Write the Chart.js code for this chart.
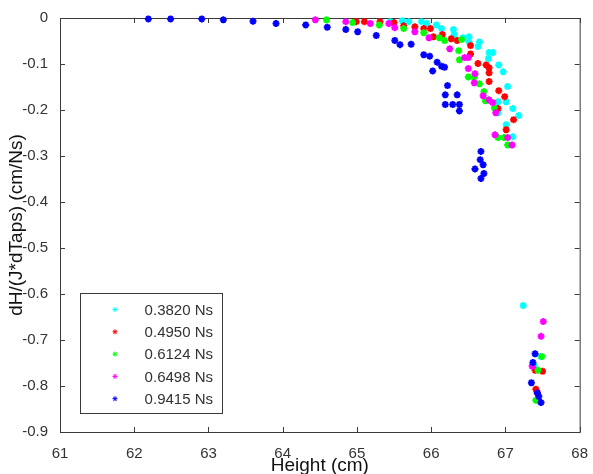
<!DOCTYPE html>
<html>
<head>
<meta charset="utf-8">
<script src="https://cdn.jsdelivr.net/npm/chart.js@4"></script>
<style>
  body { margin: 0; background: #fff; }
  canvas { display: block; }
</style>
</head>
<body>
<canvas id="heightChart" width="593" height="474"></canvas>
<script>
const seriesLabels = ['0.3820 Ns', '0.4950 Ns', '0.6124 Ns', '0.6498 Ns', '0.9415 Ns'];
const seriesColors = ['#00ffff', '#ff0000', '#00ff00', '#ff00ff', '#0000ff'];

// Height (cm) / dH/(J*dTaps) per impulse
const cyanH = [65.45, 65.61, 65.70, 65.87, 65.94, 66.07, 66.14, 66.30, 66.31, 66.43, 66.51, 66.51, 66.65, 66.63, 66.78, 66.83, 66.77, 66.91, 66.97, 67.03, 66.90, 67.01, 67.10, 66.90, 67.18, 67.01, 67.10, 67.24, 67.48, 67.39];
const cyanD = [-0.008, -0.006, -0.008, -0.008, -0.012, -0.015, -0.023, -0.025, -0.036, -0.043, -0.041, -0.052, -0.052, -0.062, -0.075, -0.075, -0.088, -0.102, -0.117, -0.149, -0.182, -0.182, -0.197, -0.206, -0.212, -0.232, -0.258, -0.625, -0.736, -0.756];

const redH = [64.99, 65.10, 65.31, 65.50, 65.63, 65.78, 65.90, 65.99, 66.03, 66.15, 66.27, 66.35, 66.53, 66.53, 66.63, 66.74, 66.78, 66.78, 66.78, 66.91, 66.99, 66.90, 67.11, 67.01, 67.40, 67.50, 67.41, 67.43];
const redD = [-0.008, -0.008, -0.008, -0.010, -0.017, -0.019, -0.023, -0.023, -0.041, -0.036, -0.045, -0.049, -0.060, -0.078, -0.099, -0.102, -0.108, -0.119, -0.138, -0.158, -0.171, -0.197, -0.221, -0.243, -0.766, -0.768, -0.807, -0.814];

const greenH = [64.59, 64.94, 65.30, 65.63, 65.90, 66.11, 66.18, 66.41, 66.37, 66.38, 66.50, 66.58, 66.65, 66.71, 66.73, 66.78, 66.85, 66.90, 66.98, 67.03, 67.44, 67.49, 67.41, 67.44];
const greenD = [-0.004, -0.010, -0.015, -0.023, -0.032, -0.043, -0.049, -0.047, -0.071, -0.091, -0.128, -0.128, -0.143, -0.160, -0.180, -0.178, -0.195, -0.260, -0.260, -0.276, -0.766, -0.736, -0.831, -0.831];

const magentaH = [64.44, 64.85, 65.18, 65.43, 65.51, 65.78, 65.97, 66.25, 66.45, 66.50, 66.50, 66.59, 66.58, 66.70, 66.78, 66.83, 66.87, 66.86, 67.03, 67.09, 67.51, 67.48, 67.36];
const magentaD = [-0.004, -0.008, -0.012, -0.012, -0.021, -0.030, -0.043, -0.067, -0.086, -0.086, -0.110, -0.121, -0.141, -0.169, -0.178, -0.184, -0.206, -0.254, -0.260, -0.276, -0.660, -0.692, -0.757];

const blueH = [62.19, 62.49, 62.91, 63.20, 63.60, 63.91, 64.31, 64.60, 64.85, 65.01, 65.26, 65.51, 65.58, 65.73, 65.90, 65.98, 66.08, 66.14, 66.18, 66.02, 66.22, 66.19, 66.35, 66.19, 66.29, 66.38, 66.38, 66.67, 66.66, 66.70, 66.59, 66.71, 66.67, 67.40, 67.37, 67.35, 67.43, 67.45, 67.48];
const blueD = [-0.002, -0.002, -0.002, -0.004, -0.007, -0.012, -0.015, -0.020, -0.025, -0.030, -0.038, -0.049, -0.058, -0.057, -0.080, -0.083, -0.096, -0.105, -0.107, -0.115, -0.147, -0.167, -0.167, -0.188, -0.188, -0.188, -0.202, -0.290, -0.308, -0.319, -0.328, -0.338, -0.349, -0.730, -0.749, -0.793, -0.815, -0.823, -0.836];

const xTicks = [61, 62, 63, 64, 65, 66, 67, 68];
const yTicks = [0, -0.1, -0.2, -0.3, -0.4, -0.5, -0.6, -0.7, -0.8, -0.9];

const allH = [cyanH, redH, greenH, magentaH, blueH];
const allD = [cyanD, redD, greenD, magentaD, blueD];

const axisColor = '#3a3a3a';
const textColor = '#333333';
const fontFamily = '"Liberation Sans", Arial, sans-serif';

// MATLAB style box with inward ticks
const frame = {
  id: 'frame',
  beforeDatasetsDraw(chart) {
    const { ctx, chartArea: a, scales } = chart;
    ctx.save();
    ctx.strokeStyle = axisColor;
    ctx.lineWidth = 1;
    ctx.strokeRect(a.left + 0.5, a.top + 0.5, a.right - a.left, a.bottom - a.top);
    ctx.beginPath();
    xTicks.forEach(v => {
      const px = Math.round(scales.x.getPixelForValue(v)) + 0.5;
      ctx.moveTo(px, a.bottom); ctx.lineTo(px, a.bottom - 5);
      ctx.moveTo(px, a.top); ctx.lineTo(px, a.top + 5);
    });
    yTicks.forEach(v => {
      const py = Math.round(scales.y.getPixelForValue(v)) + 0.5;
      ctx.moveTo(a.left, py); ctx.lineTo(a.left + 5, py);
      ctx.moveTo(a.right, py); ctx.lineTo(a.right - 5, py);
    });
    ctx.stroke();
    ctx.restore();
  }
};

// legend box in the lower left of the axes
const boxLegend = {
  id: 'boxLegend',
  afterDraw(chart) {
    const { ctx, chartArea: a } = chart;
    const left = a.left + 20, top = a.bottom - 139, w = 142, h = 120;
    ctx.save();
    ctx.fillStyle = '#fff';
    ctx.fillRect(left, top, w, h);
    ctx.strokeStyle = axisColor;
    ctx.lineWidth = 1;
    ctx.strokeRect(left + 0.5, top + 0.5, w, h);
    ctx.font = '15px ' + fontFamily;
    ctx.textAlign = 'right';
    ctx.textBaseline = 'middle';
    chart.data.datasets.forEach((ds, i) => {
      const y = top + 16.5 + i * 22.3;
      ctx.strokeStyle = ds.borderColor;
      ctx.fillStyle = ds.borderColor;
      Chart.helpers.drawPoint(ctx, { pointStyle: 'star', radius: 2.5, borderWidth: 1.5 }, left + 35, y);
      ctx.fillStyle = textColor;
      ctx.fillText(ds.label, left + 133, y + 1);
    });
    ctx.restore();
  }
};

new Chart(document.getElementById('heightChart'), {
  type: 'scatter',
  data: {
    datasets: seriesLabels.map((label, i) => ({
      label: label,
      data: allH[i].map((h, j) => ({ x: h, y: allD[i][j] })),
      borderColor: seriesColors[i],
      backgroundColor: seriesColors[i],
      pointStyle: 'star',
      pointRadius: 3.5,
      pointBorderWidth: 2,
      order: seriesLabels.length - i,
      clip: false
    }))
  },
  options: {
    responsive: false,
    animation: false,
    layout: { padding: { top: 18, right: 9, left: 0, bottom: 0 } },
    plugins: {
      legend: { display: false },
      tooltip: { enabled: false }
    },
    scales: {
      x: {
        type: 'linear',
        min: 61,
        max: 68,
        afterBuildTicks: s => { s.ticks = xTicks.map(v => ({ value: v })); },
        grid: { display: false },
        border: { display: false },
        ticks: {
          padding: 5,
          color: textColor,
          font: { family: fontFamily, size: 15 },
          callback: v => String(v)
        },
        title: {
          display: true,
          text: 'Height (cm)',
          color: '#111',
          font: { family: fontFamily, size: 19 },
          padding: { top: 0, bottom: -3 }
        },
        afterFit: s => { s.height = 42; }
      },
      y: {
        type: 'linear',
        min: -0.9,
        max: 0,
        afterBuildTicks: s => { s.ticks = yTicks.map(v => ({ value: v })); },
        grid: { display: false },
        border: { display: false },
        ticks: {
          padding: 4,
          color: textColor,
          font: { family: fontFamily, size: 15 },
          callback: v => String(Number(v.toFixed(1)))
        },
        title: {
          display: true,
          text: 'dH/(J*dTaps) (cm/Ns)',
          color: '#111',
          font: { family: fontFamily, size: 19 },
          padding: { top: 5, bottom: 0 }
        },
        afterFit: s => { s.width = 60; }
      }
    }
  },
  plugins: [frame, boxLegend]
});
</script>
</body>
</html>
